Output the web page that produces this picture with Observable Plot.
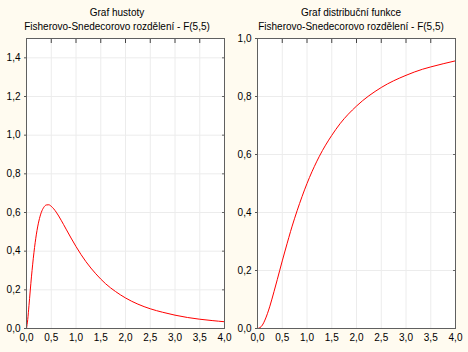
<!DOCTYPE html>
<html>
<head>
<meta charset="utf-8">
<script src="https://cdn.jsdelivr.net/npm/d3@7"></script>
<script src="https://cdn.jsdelivr.net/npm/@observablehq/plot@0.6"></script>
<style>
  html, body { margin: 0; padding: 0; background: #fffbf0; }
  #root { width: 468px; height: 352px; display: flex; background: #fffbf0; font-family: "Liberation Sans", Arial, sans-serif; }
  .panel { width: 234px; height: 352px; position: relative; }
  .title { position: absolute; top: 6px; left: 0; width: 234px; text-align: center; font-size: 10px; line-height: 14px; color: #000; }
  .panel svg { position: absolute; top: 34px; left: 0; }
</style>
</head>
<body>
<div id="root">
  <div class="panel" id="p1"><div class="title" id="t1"></div></div>
  <div class="panel" id="p2"><div class="title" id="t2"></div></div>
</div>
<script>
// Titles
const titleDensity = ["Graf hustoty", "Fisherovo-Snedecorovo rozdělení - F(5,5)"];
const titleCdf = ["Graf distribuční funkce", "Fisherovo-Snedecorovo rozdělení - F(5,5)"];

// Density of F(5,5)
const densX = [0, 0.025, 0.05, 0.1, 0.15, 0.2, 0.25, 0.3, 0.35, 0.4, 0.45, 0.5, 0.6, 0.7, 0.8, 0.9, 1.0, 1.2, 1.4, 1.6, 1.8, 2.0, 2.25, 2.5, 2.75, 3.0, 3.25, 3.5, 3.75, 4.0];
const densY = [0, 0.047, 0.119, 0.267, 0.392, 0.488, 0.556, 0.601, 0.627, 0.639, 0.640, 0.632, 0.602, 0.560, 0.514, 0.468, 0.424, 0.346, 0.283, 0.231, 0.191, 0.158, 0.126, 0.102, 0.084, 0.069, 0.057, 0.048, 0.041, 0.035];

// Distribution function of F(5,5)
const cdfX = [0, 0.05, 0.1, 0.15, 0.2, 0.25, 0.3333, 0.4, 0.5, 0.6, 0.6667, 0.7, 0.8, 0.9, 1.0, 1.2, 1.25, 1.5, 1.6667, 2.0, 2.5, 3.0, 3.3333, 3.5, 4.0];
const cdfY = [0, 0.003, 0.012, 0.029, 0.051, 0.077, 0.127, 0.169, 0.233, 0.294, 0.334, 0.353, 0.406, 0.455, 0.500, 0.577, 0.594, 0.666, 0.706, 0.767, 0.831, 0.873, 0.894, 0.902, 0.923];

const xTicks = [0, 0.5, 1.0, 1.5, 2.0, 2.5, 3.0, 3.5, 4.0];
const yTicksDensity = [0, 0.2, 0.4, 0.6, 0.8, 1.0, 1.2, 1.4];
const yTicksCdf = [0, 0.2, 0.4, 0.6, 0.8, 1.0];

const fmt = d => d.toFixed(1).replace(".", ",");
const none = () => "";

function panel(xs, ys, yDomain, yTicks, ml, mr) {
  const data = xs.map((x, i) => ({x, y: ys[i]}));
  return Plot.plot({
    width: 234,
    height: 318,
    marginTop: 4,
    marginBottom: 24,
    marginLeft: ml,
    marginRight: mr,
    style: {background: "transparent", fontFamily: "'Liberation Sans', Arial, sans-serif", fontSize: "10px", color: "#000"},
    x: {domain: [0, 4]},
    y: {domain: yDomain},
    marks: [
      Plot.frame({fill: "white", stroke: null}),
      Plot.gridX(xTicks, {stroke: "#ececec", strokeOpacity: 1}),
      Plot.gridY(yTicks, {stroke: "#ececec", strokeOpacity: 1}),
      Plot.line(data, {x: "x", y: "y", stroke: "#ff0000", strokeWidth: 1, curve: "monotone-x"}),
      Plot.axisX(xTicks, {anchor: "bottom", tickSize: 0, tickPadding: 5, tickFormat: fmt, label: null}),
      Plot.axisY(yTicks, {anchor: "left", tickSize: 0, tickPadding: 6, tickFormat: fmt, label: null}),
      Plot.axisX(xTicks, {anchor: "top", tickSize: -4, tickFormat: none, label: null, stroke: "#444"}),
      Plot.axisY(yTicks, {anchor: "right", tickSize: -3, tickFormat: none, label: null, stroke: "#666"}),
      Plot.axisY(yTicks, {anchor: "left", tickSize: 2, tickFormat: none, label: null, stroke: "#555"}),
      Plot.frame({stroke: "#606060", strokeWidth: 1})
    ]
  });
}

document.getElementById("t1").innerHTML = titleDensity.join("<br>");
document.getElementById("t2").innerHTML = titleCdf.join("<br>");
document.getElementById("p1").appendChild(panel(densX, densY, [0, 1.5], yTicksDensity, 26, 10));
document.getElementById("p2").appendChild(panel(cdfX, cdfY, [0, 1.0], yTicksCdf, 23, 13));
</script>
</body>
</html>
